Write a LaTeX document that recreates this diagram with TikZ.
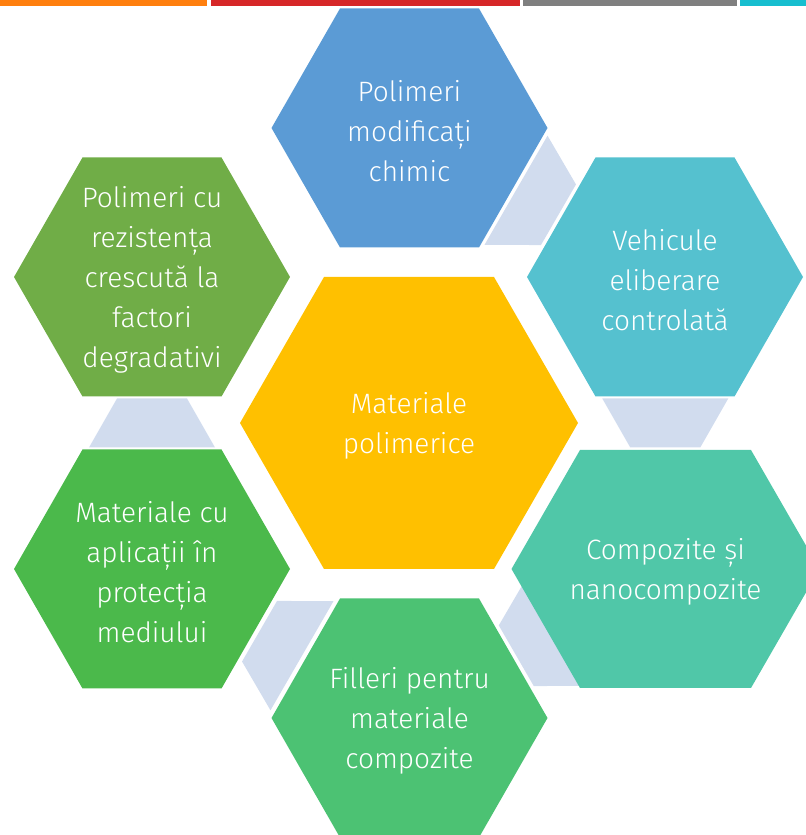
\documentclass[tikz,border=0pt]{standalone}
\usepackage{fontspec}
\setmainfont{Fira Sans}[UprightFont=* Light]
\usepackage{xcolor}
\usetikzlibrary{backgrounds,calc}

\definecolor{barorange}{HTML}{FF7F0E}
\definecolor{barred}{HTML}{D62728}
\definecolor{bargray}{HTML}{7F7F7F}
\definecolor{barcyan}{HTML}{17BECF}
\definecolor{hexblue}{HTML}{5B9BD5}
\definecolor{hexcyan}{HTML}{55C1CF}
\definecolor{hexteal}{HTML}{50C7A8}
\definecolor{hexgreen}{HTML}{4CC273}
\definecolor{hexleaf}{HTML}{4BB94B}
\definecolor{hexolive}{HTML}{70AD47}
\definecolor{hexgold}{HTML}{FFC000}
\definecolor{linkgray}{HTML}{D1DCEE}

% flat-topped hexagon: colour, centre, half flat edge, slant run, half height
\newcommand\hexfill[5]{%
  \fill[#1] ($(#2)+(#3+#4,0)$) -- ++(-#4,#5) -- ++(-2*#3,0) -- ++(-#4,-#5)
    -- ++(#4,-#5) -- ++(2*#3,0) -- cycle;}
% trapezoid between two cells, wide end at the first one
\newcommand\linkbar[3]{%
  \fill[linkgray, shift={($(#1)!0.5!(#2)$)}, rotate=#3]
    (-63,24.5) -- (63,24.5) -- (35,-24.5) -- (-35,-24.5) -- cycle;}

\begin{document}
\begin{tikzpicture}[x=0.75pt,y=0.75pt]
  \tikzstyle{cell}=[align=center,text=white,inner sep=0pt,
    font=\fontsize{21}{30}\selectfont]
  \useasboundingbox (0,0) rectangle (806,835);

  % strip along the top edge
  \fill[barorange] (0,829) rectangle (207,835);
  \fill[barred] (211,829) rectangle (520,835);
  \fill[bargray] (523,829) rectangle (737,835);
  \fill[barcyan] (740,829) rectangle (806,835);

  \coordinate (core) at (409,412);
  \coordinate (chem) at (409.5,707);
  \coordinate (vehicle) at (665,558);
  \coordinate (nano) at (665.5,266);
  \coordinate (filler) at (409.5,117);
  \coordinate (enviro) at (152,266);
  \coordinate (resist) at (152,558);

  \node[cell] (coret) at ([yshift=-2pt]core) {Materiale\\polimerice};
  \node[cell] (chemt) at ([yshift=-2pt]chem) {Polimeri\\modificați\\chimic};
  \node[cell] (vehiclet) at ([yshift=-2pt]vehicle) {Vehicule\\eliberare\\controlată};
  \node[cell] (nanot) at ([yshift=-2pt]nano) {Compozite și\\nanocompozite};
  \node[cell] (fillert) at ([yshift=-2pt]filler) {Filleri pentru\\materiale\\compozite};
  \node[cell] (envirot) at ([yshift=-2pt]enviro) {Materiale cu\\aplicații în\\protecția\\mediului};
  \node[cell] (resistt) at ([yshift=-2pt]resist) {Polimeri cu\\rezistența\\crescută la\\factori\\degradativi};

  \begin{scope}[on background layer]
    \linkbar{chem}{vehicle}{60}
    \linkbar{vehicle}{nano}{0}
    \linkbar{nano}{filler}{-60}
    \linkbar{filler}{enviro}{-120}
    \linkbar{enviro}{resist}{180}
    \hexfill{hexgold}{core}{85}{84}{146}
    \hexfill{hexblue}{chem}{69.5}{68.5}{119.5}
    \hexfill{hexcyan}{vehicle}{69.5}{68.5}{119.5}
    \hexfill{hexteal}{nano}{85.5}{68.5}{119}
    \hexfill{hexgreen}{filler}{69.5}{68.5}{119.5}
    \hexfill{hexleaf}{enviro}{69.5}{68.5}{119.5}
    \hexfill{hexolive}{resist}{69.5}{68.5}{119.5}
  \end{scope}
\end{tikzpicture}
\end{document}
